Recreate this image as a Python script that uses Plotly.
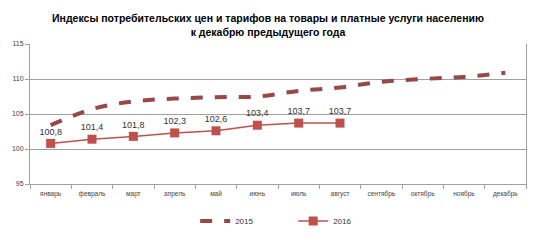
import plotly.graph_objects as go

months = ["январь", "февраль", "март", "апрель", "май", "июнь", "июль",
          "август", "сентябрь", "октябрь", "ноябрь", "декабрь"]
values_2015 = [103.4, 105.7, 106.8, 107.2, 107.4, 107.5, 108.3, 108.8,
               109.6, 110.0, 110.3, 110.9]
values_2016 = [100.8, 101.4, 101.8, 102.3, 102.6, 103.4, 103.7, 103.7]
y_ticks = [95, 100, 105, 110, 115]

labels_2016 = [f"{v:.1f}".replace(".", ",") for v in values_2016]

fig = go.Figure()
fig.add_trace(go.Scatter(
    x=months, y=values_2015, name="2015", mode="lines",
    line=dict(color="#984848", width=4, dash="dash", shape="spline"),
))
fig.add_trace(go.Scatter(
    x=months[:len(values_2016)], y=values_2016, name="2016",
    mode="lines+markers+text",
    line=dict(color="#C0504D", width=1.5),
    marker=dict(symbol="square", size=9, color="#C0504D"),
    text=labels_2016, textposition="top center",
    textfont=dict(size=9, color="#333333", family="Liberation Sans"),
))

fig.update_layout(
    width=536, height=242,
    margin=dict(l=30, r=10, t=44, b=58, autoexpand=False),
    paper_bgcolor="white", plot_bgcolor="white",
    title=dict(
        text="Индексы потребительских цен и тарифов на товары и платные услуги населению<br>к декабрю предыдущего года",
        x=0.5, xanchor="center", y=1 - 22 / 242, yanchor="middle",
        font=dict(size=10.5, color="#000000", family="Liberation Sans Narrow, Liberation Sans",
                  weight="bold"),
    ),
    font=dict(family="Liberation Sans", size=7, color="#444444"),
    showlegend=True,
    legend=dict(orientation="h", x=0.333, xanchor="left", y=-0.265, yanchor="middle",
                font=dict(size=8, color="#333333"),
                entrywidth=53, entrywidthmode="pixels",
                bgcolor="rgba(0,0,0,0)"),
)
fig.update_xaxes(
    type="category", range=[-0.5, 11.5], tickson="boundaries", ticks="outside", ticklen=4,
    tickcolor="#A0A0A0", showline=True, linecolor="#A0A0A0", linewidth=1,
    showgrid=False, tickfont=dict(size=6.5, color="#444444"),
    automargin=False, ticklabelstandoff=3,
)
fig.update_yaxes(
    range=[95, 115], tickvals=y_ticks, ticks="outside", ticklen=4,
    tickcolor="#A0A0A0", showline=True, linecolor="#A0A0A0", linewidth=1,
    mirror=True, showgrid=True, gridcolor="#A0A0A0", gridwidth=1,
    tickfont=dict(size=7, color="#444444"), zeroline=False, automargin=False,
)

fig.write_html("out.html", config={"displayModeBar": False},
               post_script="document.body.style.margin='0';")
